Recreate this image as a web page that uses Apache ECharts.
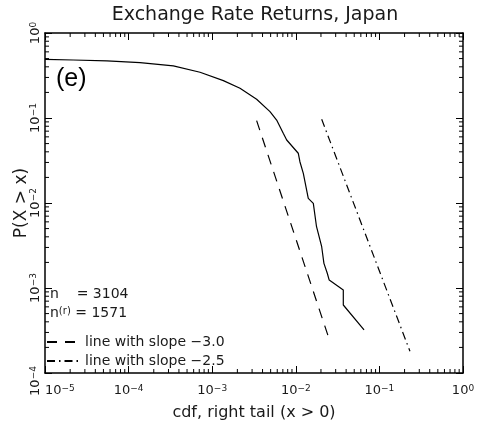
<!DOCTYPE html>
<html>
<head>
<meta charset="utf-8">
<script src="https://cdn.jsdelivr.net/npm/echarts@6/dist/echarts.min.js"></script>
<style>html,body{margin:0;padding:0;background:#fff}#c{width:482px;height:425px}</style>
</head>
<body>
<div id="c"></div>
<script>
// ---- data ----
const curveX = [1.0e-5, 2.18e-5, 5.5e-5, 1.37e-4, 3.43e-4, 7.15e-4, 1.36e-3, 2.15e-3, 3.40e-3, 4.91e-3, 5.90e-3, 7.08e-3, 7.78e-3, 1.07e-2, 1.12e-2, 1.23e-2, 1.41e-2, 1.62e-2, 1.77e-2, 2.04e-2, 2.17e-2, 2.38e-2, 2.51e-2, 3.70e-2, 3.70e-2, 6.55e-2];
const curveP = [0.49, 0.481, 0.469, 0.448, 0.41, 0.345, 0.275, 0.224, 0.166, 0.119, 0.0946, 0.066, 0.0551, 0.0385, 0.0306, 0.0223, 0.01135, 0.0099, 0.00526, 0.00306, 0.00195, 0.00149, 0.00124, 0.000946, 0.000631, 0.000321];
const slope3X = [0.0034, 0.0256];
const slope3P = [0.093, 0.000235];
const slope25X = [0.0204, 0.232];
const slope25P = [0.0965, 0.00018];
const xDecades = [-5, -4, -3, -2, -1, 0];
const yDecades = [-4, -3, -2, -1, 0];
const sampleN = 3104;
const sampleNr = 1571;
const titleText = 'Exchange Rate Returns, Japan';
const xName = 'cdf, right tail (x > 0)';
const yName = 'P(X > x)';
const name3 = 'line with slope \u22123.0';
const name25 = 'line with slope \u22122.5';

// minor tick values (2..9 x 10^k)
const xMinor = [];
for (let i = 0; i < xDecades.length - 1; i++) for (let m = 2; m <= 9; m++) xMinor.push([m * Math.pow(10, xDecades[i]), 1e-4]);
const yMinor = [];
for (let i = 0; i < yDecades.length - 1; i++) for (let m = 2; m <= 9; m++) yMinor.push([1e-5, m * Math.pow(10, yDecades[i])]);

const FONT = 'DejaVu Sans';
const INK = '#1a1a1a';
function expText(v) {
  const e = Math.round(Math.log10(v));
  return { e: e, s: e < 0 ? '\u2212' + (-e) : String(e) };
}
function xLabel(v) {
  return '{b|10}{s|' + expText(v).s + '}';
}
function yLabel(v) {
  const t = expText(v);
  if (t.e === yDecades[0]) return '{b|10}{m|' + t.s + '}';
  return '{b|10}{s|' + t.s + '}';
}
const labelRich = {
  b: { fontSize: 13, fontFamily: FONT, color: INK },
  s: { fontSize: 9, fontFamily: FONT, color: INK, verticalAlign: 'top' },
  m: { fontSize: 9, fontFamily: FONT, color: INK, verticalAlign: 'top', padding: [0, 16, 0, 0] }
};

const chart = echarts.init(document.getElementById('c'), null, { renderer: 'canvas' });
const axisCommon = {
  type: 'log', logBase: 10,
  axisLine: { show: true, lineStyle: { color: '#000', width: 1.5 } },
  axisTick: { show: true, inside: true, length: 7, lineStyle: { color: '#000', width: 1 } },
  splitLine: { show: false },
  minorTick: { show: false },
};
chart.setOption({
  animation: false,
  backgroundColor: '#fff',
  grid: { left: 45, right: 19, top: 33, bottom: 52, containLabel: false, outerBoundsMode: 'none' },
  xAxis: [
    Object.assign({}, axisCommon, {
      min: 1e-5, max: 1, position: 'bottom',
      name: xName, nameLocation: 'middle', nameGap: 32, nameMoveOverlap: false,
      nameTextStyle: { fontSize: 16, fontFamily: FONT, color: INK },
      axisLabel: { margin: 11, formatter: xLabel, rich: labelRich, alignMinLabel: 'left' }
    }),
    Object.assign({}, axisCommon, { min: 1e-5, max: 1, position: 'top', axisLabel: { show: false } })
  ],
  yAxis: [
    Object.assign({}, axisCommon, {
      min: 1e-4, max: 1, position: 'left',
      name: yName, nameLocation: 'middle', nameGap: 15, nameRotate: 90, nameMoveOverlap: false,
      nameTextStyle: { fontSize: 17, fontFamily: FONT, color: INK },
      axisLabel: { margin: 3, rotate: 90, formatter: yLabel, rich: labelRich }
    }),
    Object.assign({}, axisCommon, { min: 1e-4, max: 1, position: 'right', axisLabel: { show: false } })
  ],
  legend: {
    data: [name3, name25],
    orient: 'vertical', left: 46, top: 335, padding: 0,
    itemWidth: 33, itemHeight: 12, itemGap: 5,
    itemStyle: { opacity: 0 },
    textStyle: { fontSize: 14, fontFamily: FONT, color: INK },
    selectedMode: false
  },
  series: [
    {
      type: 'line', name: 'cdf', xAxisIndex: 0, yAxisIndex: 0,
      data: curveX.map((x, i) => [x, curveP[i]]),
      symbol: 'none', color: '#000', lineStyle: { color: '#000', width: 1.2 }, silent: true
    },
    {
      type: 'line', name: name3, xAxisIndex: 0, yAxisIndex: 0,
      data: slope3X.map((x, i) => [x, slope3P[i]]),
      symbol: 'none', color: '#000', lineStyle: { color: '#000', width: 1.2, type: [10, 8] }, silent: true
    },
    {
      type: 'line', name: name25, xAxisIndex: 0, yAxisIndex: 0,
      data: slope25X.map((x, i) => [x, slope25P[i]]),
      symbol: 'none', color: '#000', lineStyle: { color: '#000', width: 1.2, type: [8, 4, 1.5, 4] }, silent: true
    },
    {
      type: 'custom', name: 'xminor', silent: true, clip: false,
      data: xMinor,
      renderItem: function (params, api) {
        const cs = params.coordSys;
        const p = api.coord([api.value(0), api.value(1)]);
        const yb = cs.y + cs.height, yt = cs.y;
        const st = { stroke: '#000', lineWidth: 1 };
        return { type: 'group', children: [
          { type: 'line', shape: { x1: p[0], y1: yb, x2: p[0], y2: yb - 4 }, style: st },
          { type: 'line', shape: { x1: p[0], y1: yt, x2: p[0], y2: yt + 4 }, style: st }
        ] };
      }
    },
    {
      type: 'custom', name: 'yminor', silent: true, clip: false,
      data: yMinor,
      renderItem: function (params, api) {
        const cs = params.coordSys;
        const p = api.coord([api.value(0), api.value(1)]);
        const xl = cs.x, xr = cs.x + cs.width;
        const st = { stroke: '#000', lineWidth: 1 };
        return { type: 'group', children: [
          { type: 'line', shape: { x1: xl, y1: p[1], x2: xl + 4, y2: p[1] }, style: st },
          { type: 'line', shape: { x1: xr, y1: p[1], x2: xr - 4, y2: p[1] }, style: st }
        ] };
      }
    }
  ],
  graphic: [
    { type: 'text', x: 255, y: 15, style: { text: titleText, align: 'center', verticalAlign: 'middle', font: '19px "DejaVu Sans"', fill: INK } },
    { type: 'text', x: 56, y: 79, style: { text: '(e)', align: 'left', verticalAlign: 'middle', font: '25px "Liberation Sans"', fill: '#000' } },
    { type: 'text', x: 50, y: 294, style: { text: 'n    = ' + sampleN, align: 'left', verticalAlign: 'middle', font: '14px "DejaVu Sans"', fill: INK } },
    { type: 'text', x: 50, y: 313, style: {
      text: '{b|n}{s|(r)}{b| = ' + sampleNr + '}', align: 'left', verticalAlign: 'middle',
      rich: { b: { fontSize: 14, fontFamily: FONT, fill: INK }, s: { fontSize: 10, fontFamily: FONT, fill: INK, verticalAlign: 'top' } }
    } }
  ]
});
</script>
</body>
</html>
